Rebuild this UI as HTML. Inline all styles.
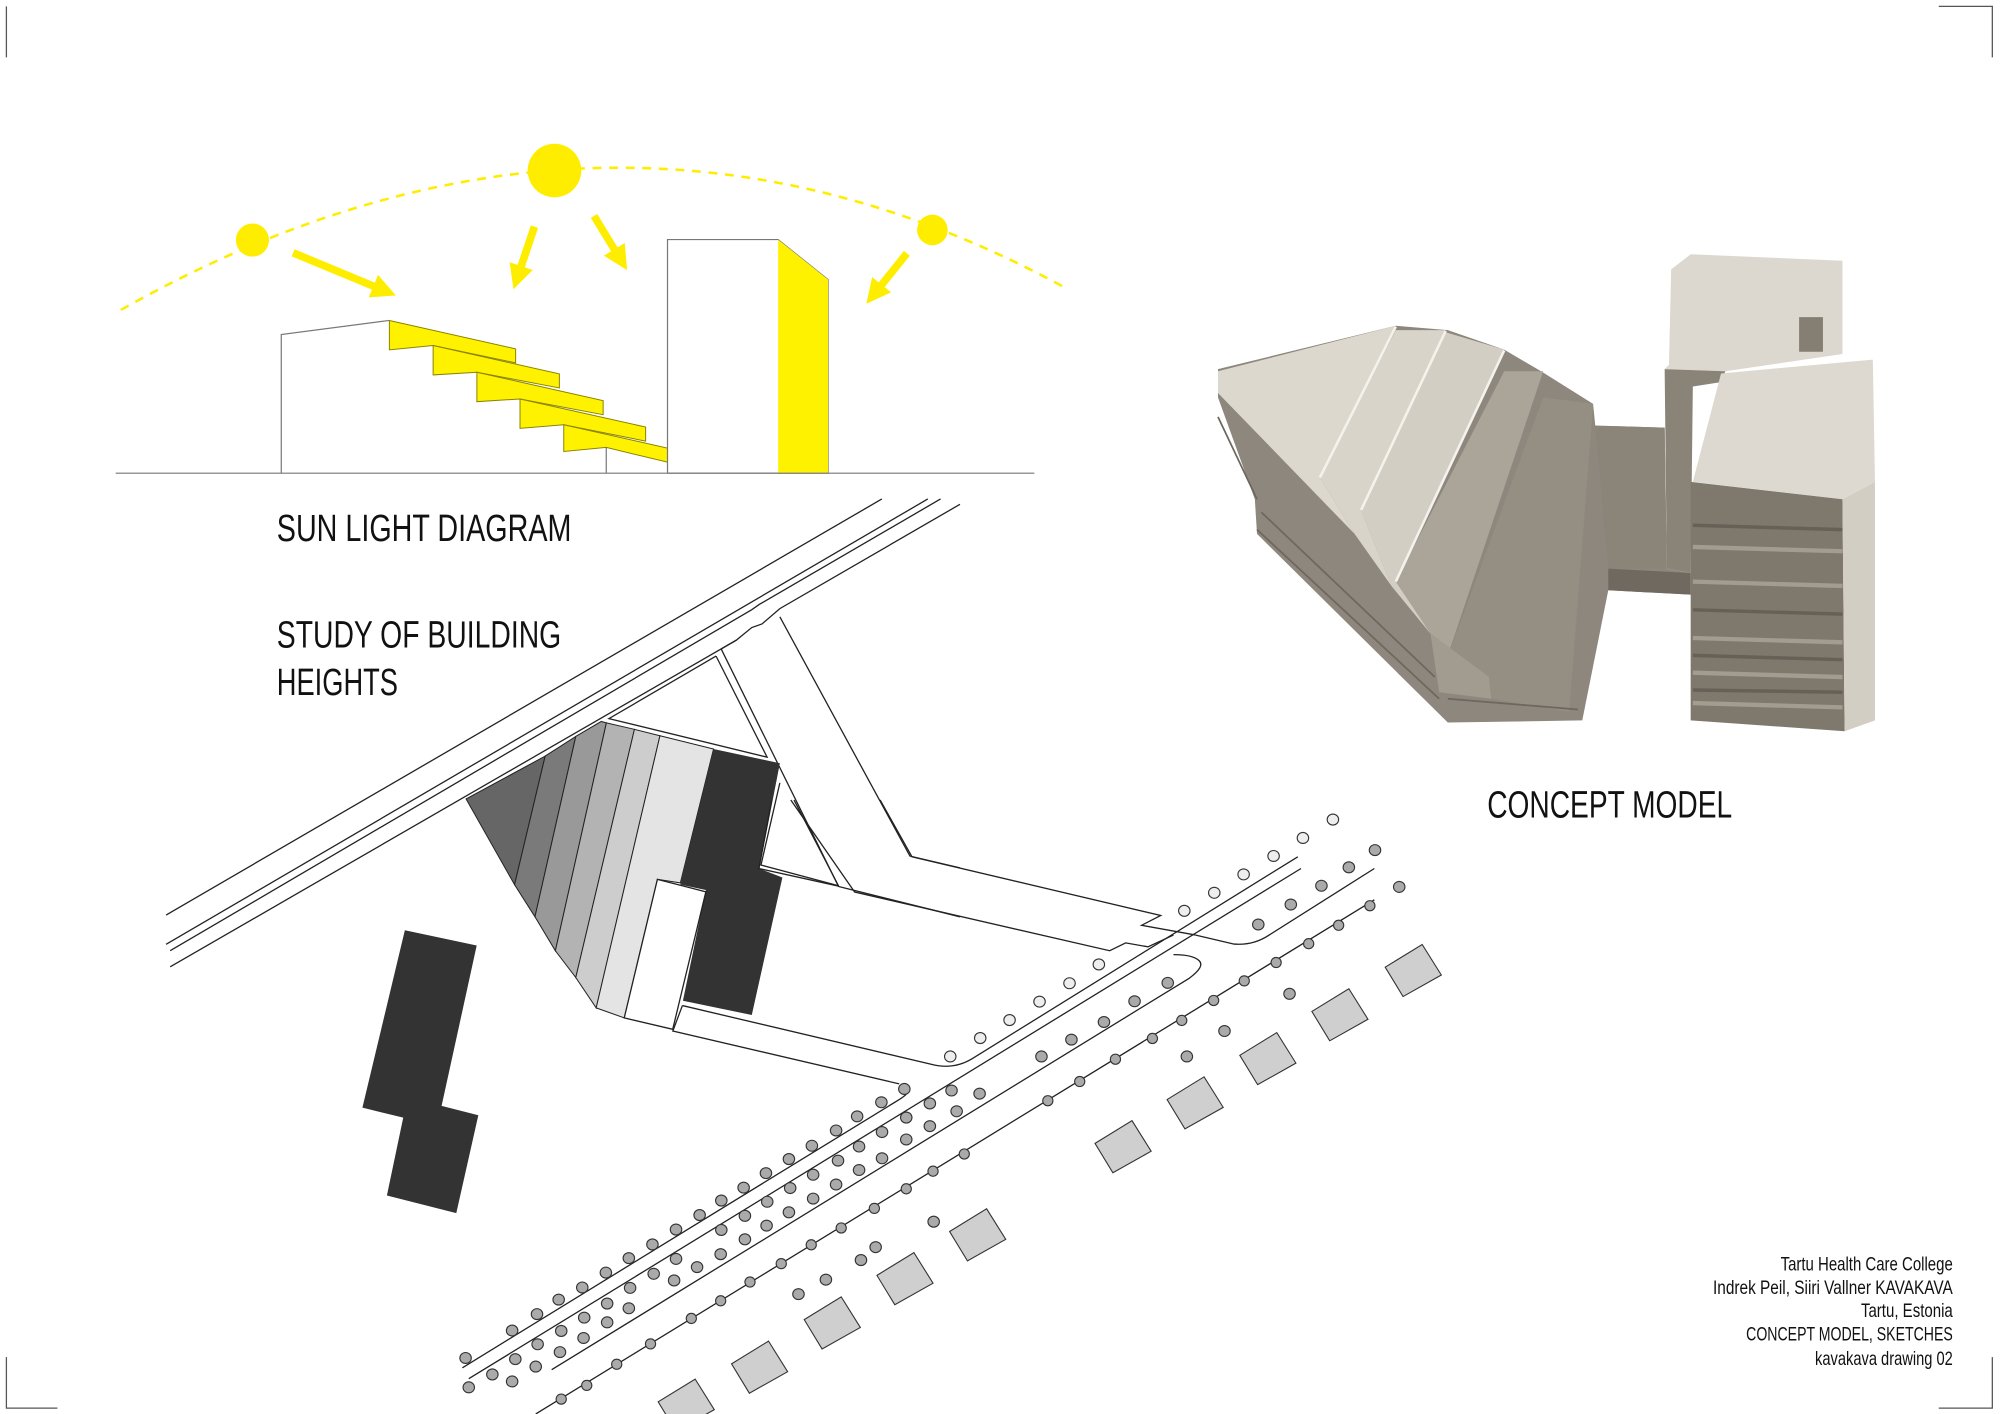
<!DOCTYPE html>
<html><head><meta charset="utf-8"><style>
html,body{margin:0;padding:0;background:#fff;}
svg{display:block;}
.t{font-family:"Liberation Sans Narrow","Liberation Sans",sans-serif;fill:#111;}
.s{fill:none;stroke:#222;vector-effect:non-scaling-stroke;stroke-width:1.3;}
.d{fill:#aaa;stroke:#333;vector-effect:non-scaling-stroke;stroke-width:1.1;}
.o{fill:#eee;stroke:#333;vector-effect:non-scaling-stroke;stroke-width:1.1;}
.q{fill:#cfcfcf;stroke:#333;vector-effect:non-scaling-stroke;stroke-width:1.1;}
.y{fill:#fff200;stroke:#8a8400;vector-effect:non-scaling-stroke;stroke-width:1;}
.g{fill:none;stroke:#777;vector-effect:non-scaling-stroke;stroke-width:1.2;}
</style></head><body>
<svg width="2000" height="1414" viewBox="0 0 1568 1108.6" xmlns="http://www.w3.org/2000/svg">
<rect width="1568" height="1108.6" fill="#fff"/>
<g stroke="#555" stroke-width="1" fill="none">
<path d="M5,5 V45"/>
<path d="M1520,5 H1562 V45"/>
<path d="M5,1064 V1104 H45"/>
<path d="M1520,1104 H1562 V1064"/>
</g>
<defs>
<marker id="ah" markerUnits="strokeWidth" markerWidth="3.2" markerHeight="3.2" refX="0.6" refY="1.6" orient="auto"><path d="M0,0 L3.2,1.6 L0,3.2 z" fill="#ffed00"/></marker>
</defs>
<path d="M94.7,243 Q473.6,29.4 834,225" fill="none" stroke="#ffed00" stroke-width="2" stroke-dasharray="7 6"/>
<g stroke="#ffed00" stroke-width="6" marker-end="url(#ah)">
<line x1="229.8" y1="198.2" x2="296" y2="225.7"/>
<line x1="419" y1="177.7" x2="407.5" y2="212"/>
<line x1="465.7" y1="169.3" x2="483.5" y2="198.5"/>
<line x1="711" y1="198.6" x2="689" y2="226"/>
</g>
<circle cx="434.7" cy="133.7" r="21" fill="#ffed00"/>
<circle cx="197.9" cy="188.2" r="13" fill="#ffed00"/>
<circle cx="731" cy="180.3" r="12" fill="#ffed00"/>
<g transform="translate(78.4,101.9) scale(0.49,0.262)">
<polyline class="g" points="290,1027 290,612 463,570"/>
<polyline class="g" points="810,950 810,1027"/>
<polygon class="y" points="463,570 665,655 665,697 533,645 463,658"/>
<polygon class="y" points="533,645 735,730 735,772 603,725 533,733"/>
<polygon class="y" points="603,725 805,810 805,852 672,805 603,813"/>
<polygon class="y" points="672,805 873,889 873,931 742,882 672,893"/>
<polygon class="y" points="742,882 908,952 908,994 810,950 742,962"/>
<polygon class="g" points="908,1027 908,328 1085,328 1165,448 1165,1027"/>
<polygon points="1085,328 1165,448 1165,1027 1085,1027" fill="#fff200"/>
<line class="g" x1="25" y1="1027" x2="1495" y2="1027"/>
</g>
<text class="t" x="217" y="424" font-size="30" textLength="231" lengthAdjust="spacingAndGlyphs">SUN LIGHT DIAGRAM</text>
<text class="t" x="217" y="507.5" font-size="30" textLength="223" lengthAdjust="spacingAndGlyphs">STUDY OF BUILDING</text>
<text class="t" x="217" y="545" font-size="30" textLength="95" lengthAdjust="spacingAndGlyphs">HEIGHTS</text>
<text class="t" x="1166" y="641" font-size="30" textLength="192" lengthAdjust="spacingAndGlyphs">CONCEPT MODEL</text>
<g class="t" font-size="15.5" text-anchor="end">
<text x="1531" y="996" textLength="135" lengthAdjust="spacingAndGlyphs">Tartu Health Care College</text>
<text x="1531" y="1014.5" textLength="188" lengthAdjust="spacingAndGlyphs">Indrek Peil, Siiri Vallner KAVAKAVA</text>
<text x="1531" y="1032.5" textLength="72" lengthAdjust="spacingAndGlyphs">Tartu, Estonia</text>
<text x="1531" y="1051" textLength="162" lengthAdjust="spacingAndGlyphs">CONCEPT MODEL, SKETCHES</text>
<text x="1531" y="1070" textLength="108" lengthAdjust="spacingAndGlyphs">kavakava drawing 02</text>
</g>
<g transform="translate(125.4,384.2) scale(0.4,0.28)">
<polyline class="s" points="1415,25 12,1190"/>
<polyline class="s" points="1505,25 12,1272"/>
<polyline class="s" points="1530,25 1175,320 1160,335 20,1290"/>
<polyline class="s" points="1568,40 1215,332 1180,375 1160,385 1130,420 20,1335"/>
<polyline class="s" points="1215,355 1470,1025 1568,1058"/>
<polyline class="s" points="1100,445 1330,1110 1568,1195"/>
<polyline class="s" points="1100,445 1130,420"/>
<polyline class="s" points="1090,465 880,640 1190,748 1090,465"/>
<polyline class="s" points="1215,820 1178,1050 1330,1108"/>
<polygon points="600,865 755,745 695,1105" fill="#666" stroke="#222" stroke-width="1" vector-effect="non-scaling-stroke"/>
<polygon points="755,745 815,690 735,1195 695,1105" fill="#7a7a7a" stroke="#222" stroke-width="1" vector-effect="non-scaling-stroke"/>
<polygon points="815,690 865,648 875,652 775,1290 735,1195" fill="#999" stroke="#222" stroke-width="1" vector-effect="non-scaling-stroke"/>
<polygon points="875,652 930,670 815,1365 775,1290" fill="#b3b3b3" stroke="#222" stroke-width="1" vector-effect="non-scaling-stroke"/>
<polygon points="930,670 980,688 855,1450 815,1365" fill="#cdcdcd" stroke="#222" stroke-width="1" vector-effect="non-scaling-stroke"/>
<polygon points="980,688 1085,725 1020,1100 975,1090 910,1478 855,1450" fill="#e4e4e4" stroke="#222" stroke-width="1" vector-effect="non-scaling-stroke"/>
<polygon points="1085,725 1215,765 1175,1060 1220,1085 1160,1470 1025,1430 1070,1120 1020,1105" fill="#333"/>
<polygon points="975,1090 1070,1125 1005,1510 910,1478" fill="#fff" stroke="#222" stroke-width="1.3" vector-effect="non-scaling-stroke"/>
</g>
<g transform="translate(125.4,384.2) scale(0.64,0.459)">
<polygon points="300,752 388,778 345,1052 390,1068 363,1235 278,1205 298,1072 248,1055" fill="#333"/>
</g>
<g transform="translate(345,627.2) scale(0.5,0.307)">
<polyline class="s" points="550,0 650,235 1050,385 1075,365 1110,375 1150,345"/>
<polyline class="s" points="690,0 740,145 1130,295 1100,320 1185,345"/>
<polyline class="s" points="520,0 500,175 625,220 555,0"/>
<polyline class="s" points="380,525 365,590 720,725"/>
<path class="s" d="M380,525 L770,675 Q805,690 835,660 L1345,145"/>
<path class="s" d="M35,1450 L720,765 Q740,745 735,730"/>
<polyline class="s" points="45,1478 1350,175"/>
<path class="s" d="M175,1455 L1175,455 Q1200,425 1190,410 Q1180,395 1150,395"/>
<path class="s" d="M1185,345 L1245,368 Q1275,372 1300,345 L1465,175"/>
<polyline class="s" points="150,1568 1465,255"/>
<g>
<ellipse class="o" cx="800" cy="655" rx="9" ry="14"/><ellipse class="o" cx="847" cy="608" rx="9" ry="14"/><ellipse class="o" cx="893" cy="562" rx="9" ry="14"/><ellipse class="o" cx="940" cy="515" rx="9" ry="14"/><ellipse class="o" cx="987" cy="468" rx="9" ry="14"/><ellipse class="o" cx="1033" cy="420" rx="9" ry="14"/><ellipse class="o" cx="1167" cy="283" rx="9" ry="14"/><ellipse class="o" cx="1214" cy="237" rx="9" ry="14"/><ellipse class="o" cx="1260" cy="190" rx="9" ry="14"/><ellipse class="o" cx="1307" cy="143" rx="9" ry="14"/><ellipse class="o" cx="1353" cy="97" rx="9" ry="14"/><ellipse class="o" cx="1400" cy="50" rx="9" ry="14"/>
</g>
<g>
<ellipse class="d" cx="40" cy="1425" rx="9" ry="14"/><ellipse class="d" cx="113" cy="1355" rx="9" ry="14"/><ellipse class="d" cx="152" cy="1313" rx="9" ry="14"/><ellipse class="d" cx="186" cy="1276" rx="9" ry="14"/><ellipse class="d" cx="223" cy="1245" rx="9" ry="14"/><ellipse class="d" cx="260" cy="1207" rx="9" ry="14"/><ellipse class="d" cx="296" cy="1170" rx="9" ry="14"/><ellipse class="d" cx="333" cy="1135" rx="9" ry="14"/><ellipse class="d" cx="370" cy="1097" rx="9" ry="14"/><ellipse class="d" cx="407" cy="1060" rx="9" ry="14"/><ellipse class="d" cx="441" cy="1023" rx="9" ry="14"/><ellipse class="d" cx="476" cy="990" rx="9" ry="14"/><ellipse class="d" cx="511" cy="953" rx="9" ry="14"/><ellipse class="d" cx="547" cy="917" rx="9" ry="14"/><ellipse class="d" cx="583" cy="883" rx="9" ry="14"/><ellipse class="d" cx="621" cy="844" rx="9" ry="14"/><ellipse class="d" cx="654" cy="808" rx="9" ry="14"/><ellipse class="d" cx="692" cy="772" rx="9" ry="14"/><ellipse class="d" cx="728" cy="738" rx="9" ry="14"/>
<ellipse class="d" cx="45" cy="1500" rx="9" ry="14"/><ellipse class="d" cx="82" cy="1467" rx="9" ry="14"/><ellipse class="d" cx="118" cy="1428" rx="9" ry="14"/><ellipse class="d" cx="153" cy="1390" rx="9" ry="14"/><ellipse class="d" cx="190" cy="1356" rx="9" ry="14"/><ellipse class="d" cx="226" cy="1322" rx="9" ry="14"/><ellipse class="d" cx="262" cy="1286" rx="9" ry="14"/><ellipse class="d" cx="298" cy="1246" rx="9" ry="14"/><ellipse class="d" cx="335" cy="1210" rx="9" ry="14"/><ellipse class="d" cx="370" cy="1172" rx="9" ry="14"/><ellipse class="d" cx="441" cy="1098" rx="9" ry="14"/><ellipse class="d" cx="478" cy="1062" rx="9" ry="14"/><ellipse class="d" cx="513" cy="1026" rx="9" ry="14"/><ellipse class="d" cx="549" cy="991" rx="9" ry="14"/><ellipse class="d" cx="585" cy="957" rx="9" ry="14"/><ellipse class="d" cx="624" cy="921" rx="9" ry="14"/><ellipse class="d" cx="657" cy="885" rx="9" ry="14"/><ellipse class="d" cx="693" cy="848" rx="9" ry="14"/><ellipse class="d" cx="731" cy="811" rx="9" ry="14"/><ellipse class="d" cx="768" cy="775" rx="9" ry="14"/><ellipse class="d" cx="802" cy="742" rx="9" ry="14"/>
<ellipse class="d" cx="113" cy="1485" rx="9" ry="14"/><ellipse class="d" cx="150" cy="1447" rx="9" ry="14"/><ellipse class="d" cx="188" cy="1410" rx="9" ry="14"/><ellipse class="d" cx="225" cy="1374" rx="9" ry="14"/><ellipse class="d" cx="262" cy="1334" rx="9" ry="14"/><ellipse class="d" cx="296" cy="1298" rx="9" ry="14"/><ellipse class="d" cx="367" cy="1227" rx="9" ry="14"/><ellipse class="d" cx="403" cy="1193" rx="9" ry="14"/><ellipse class="d" cx="440" cy="1160" rx="9" ry="14"/><ellipse class="d" cx="478" cy="1122" rx="9" ry="14"/><ellipse class="d" cx="512" cy="1087" rx="9" ry="14"/><ellipse class="d" cx="547" cy="1053" rx="9" ry="14"/><ellipse class="d" cx="585" cy="1018" rx="9" ry="14"/><ellipse class="d" cx="621" cy="982" rx="9" ry="14"/><ellipse class="d" cx="657" cy="945" rx="9" ry="14"/><ellipse class="d" cx="693" cy="915" rx="9" ry="14"/><ellipse class="d" cx="731" cy="867" rx="9" ry="14"/><ellipse class="d" cx="768" cy="833" rx="9" ry="14"/><ellipse class="d" cx="810" cy="795" rx="9" ry="14"/><ellipse class="d" cx="846" cy="750" rx="9" ry="14"/>
<ellipse class="d" cx="190" cy="1530" rx="8" ry="13"/><ellipse class="d" cx="230" cy="1495" rx="8" ry="13"/><ellipse class="d" cx="277" cy="1441" rx="8" ry="13"/><ellipse class="d" cx="330" cy="1389" rx="8" ry="13"/><ellipse class="d" cx="394" cy="1324" rx="8" ry="13"/><ellipse class="d" cx="440" cy="1279" rx="8" ry="13"/><ellipse class="d" cx="486" cy="1231" rx="8" ry="13"/><ellipse class="d" cx="535" cy="1184" rx="8" ry="13"/><ellipse class="d" cx="582" cy="1136" rx="8" ry="13"/><ellipse class="d" cx="629" cy="1093" rx="8" ry="13"/><ellipse class="d" cx="681" cy="1043" rx="8" ry="13"/><ellipse class="d" cx="731" cy="993" rx="8" ry="13"/><ellipse class="d" cx="773" cy="948" rx="8" ry="13"/><ellipse class="d" cx="822" cy="904" rx="8" ry="13"/><ellipse class="d" cx="953" cy="768" rx="8" ry="13"/><ellipse class="d" cx="1003" cy="719" rx="8" ry="13"/><ellipse class="d" cx="1059" cy="662" rx="8" ry="13"/><ellipse class="d" cx="1117" cy="609" rx="8" ry="13"/><ellipse class="d" cx="1163" cy="563" rx="8" ry="13"/><ellipse class="d" cx="1213" cy="512" rx="8" ry="13"/><ellipse class="d" cx="1261" cy="462" rx="8" ry="13"/><ellipse class="d" cx="1311" cy="415" rx="8" ry="13"/><ellipse class="d" cx="1362" cy="367" rx="8" ry="13"/><ellipse class="d" cx="1409" cy="320" rx="8" ry="13"/><ellipse class="d" cx="1458" cy="270" rx="8" ry="13"/>
<ellipse class="d" cx="943" cy="655" rx="9" ry="14"/><ellipse class="d" cx="990" cy="612" rx="9" ry="14"/><ellipse class="d" cx="1041" cy="567" rx="9" ry="14"/><ellipse class="d" cx="1089" cy="514" rx="9" ry="14"/><ellipse class="d" cx="1141" cy="467" rx="9" ry="14"/><ellipse class="d" cx="1283" cy="318" rx="9" ry="14"/><ellipse class="d" cx="1334" cy="267" rx="9" ry="14"/><ellipse class="d" cx="1382" cy="219" rx="9" ry="14"/><ellipse class="d" cx="1425" cy="172" rx="9" ry="14"/><ellipse class="d" cx="1466" cy="128" rx="9" ry="14"/>
<ellipse class="d" cx="562" cy="1262" rx="9" ry="14"/><ellipse class="d" cx="605" cy="1225" rx="9" ry="14"/><ellipse class="d" cx="660" cy="1175" rx="9" ry="14"/><ellipse class="d" cx="683" cy="1142" rx="9" ry="14"/><ellipse class="d" cx="774" cy="1077" rx="9" ry="14"/><ellipse class="d" cx="1171" cy="655" rx="9" ry="14"/><ellipse class="d" cx="1230" cy="590" rx="9" ry="14"/><ellipse class="d" cx="1332" cy="495" rx="9" ry="14"/><ellipse class="d" cx="1504" cy="222" rx="9" ry="14"/>
</g>
<g>
<polygon class="q" points="1482,427 1540,369 1570,447 1510,502"/>
<polygon class="q" points="1367,540 1425,482 1455,560 1395,615"/>
<polygon class="q" points="1254,652 1312,594 1342,672 1282,727"/>
<polygon class="q" points="1140,765 1198,707 1228,785 1168,840"/>
<polygon class="q" points="1027,877 1085,819 1115,897 1055,952"/>
<polygon class="q" points="799,1102 857,1044 887,1122 827,1177"/>
<polygon class="q" points="685,1214 743,1156 773,1234 713,1289"/>
<polygon class="q" points="571,1327 629,1269 659,1347 599,1402"/>
<polygon class="q" points="457,1440 515,1382 545,1460 485,1515"/>
<polygon class="q" points="342,1537 400,1479 430,1557 370,1612"/>
</g>
</g>
<!-- concept model (square zoom coords) -->
<g transform="translate(944.7,156.8) scale(0.34)">
<polygon points="30,390 440,290 560,300 690,345 775,395 895,470 900,520 1060,525 1065,850 1120,860 1120,910 930,900 870,1200 560,1205 120,770 115,690 30,455" fill="#8d877d"/>
<polygon points="895,520 1060,525 1065,850 930,850 900,520" fill="#8a8479"/>
<polygon points="930,850 1120,860 1120,910 930,900" fill="#6f695f"/>
<polygon points="780,455 895,470 840,1180 660,1150 655,1100 550,1080" fill="#958e83"/>
<polygon points="690,395 780,395 550,1080 655,1100 520,1000 440,880" fill="#aba498"/>
<polygon points="555,305 690,345 440,880 520,1000 430,890 360,715" fill="#d3cec3"/>
<polygon points="440,300 555,300 360,715 430,890 345,770 265,640" fill="#d8d4c9"/>
<polygon points="30,395 440,290 265,640 345,770 30,445" fill="#dcd8ce"/>
<polygon points="520,1000 655,1100 660,1150 540,1135" fill="#a29b8f"/>
<g stroke="#f4f2ec" stroke-width="6" fill="none">
<path d="M440,292 L265,640"/><path d="M555,302 L360,715"/><path d="M690,347 L440,880"/>
</g>
<g stroke="#6d675d" stroke-width="4" fill="none">
<path d="M30,500 L120,690"/><path d="M120,760 L540,1150"/><path d="M130,720 L530,1100"/><path d="M560,1150 L860,1175"/>
</g>
<polygon points="1075,160 1120,125 1470,140 1470,355 1200,395 1060,390 1070,380" fill="#dcd8cf"/>
<polygon points="1370,270 1425,270 1425,350 1370,350" fill="#857e73"/>
<polygon points="1060,390 1200,395 1190,420 1125,430 1120,860 1065,850" fill="#8a8378"/>
<polygon points="1190,400 1540,368 1545,650 1470,690 1125,650" fill="#ddd9d0"/>
<polygon points="1120,650 1470,690 1475,1225 1120,1200" fill="#7f786d"/>
<polygon points="1470,690 1545,650 1545,1200 1475,1225" fill="#d3cec3"/>
<g stroke="#aaa398" stroke-width="10" fill="none" opacity="0.85">
<path d="M1125,800 L1470,810"/><path d="M1125,880 L1470,890"/><path d="M1125,1010 L1470,1020"/><path d="M1125,1090 L1470,1100"/><path d="M1125,1160 L1470,1170"/>
</g>
<g stroke="#5c564d" stroke-width="8" fill="none" opacity="0.7">
<path d="M1125,750 L1470,760"/><path d="M1125,945 L1470,955"/><path d="M1125,1050 L1470,1060"/><path d="M1125,1130 L1470,1135"/>
</g>
</g>
</svg>
</body></html>
